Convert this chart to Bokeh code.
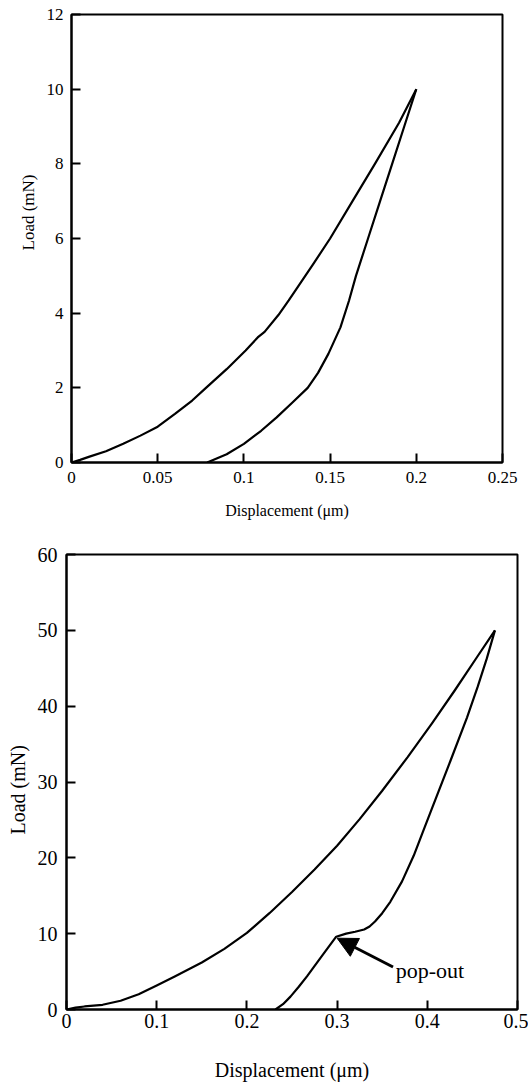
from bokeh.plotting import figure
from bokeh.models import Range1d, FixedTicker, Label, Arrow, NormalHead, Title
from bokeh.embed import file_html
from bokeh.resources import INLINE

FONT = "Liberation Serif"

# ---------------- Panel (a) data ----------------
a_load_x = [0, 0.005, 0.01, 0.02, 0.03, 0.04, 0.05, 0.06, 0.07, 0.078, 0.09, 0.101,
            0.108, 0.112, 0.12, 0.126, 0.14, 0.15, 0.163, 0.176, 0.19, 0.2]
a_load_y = [0, 0.07, 0.15, 0.3, 0.5, 0.72, 0.96, 1.3, 1.66, 2.0, 2.5, 3.0,
            3.35, 3.5, 3.95, 4.34, 5.3, 6.0, 7.0, 8.0, 9.1, 10.0]
a_unload_x = [0.2, 0.193, 0.186, 0.179, 0.172, 0.165, 0.161, 0.156, 0.149, 0.143,
              0.137, 0.128, 0.119, 0.11, 0.1, 0.09, 0.0787]
a_unload_y = [10.0, 9.0, 8.0, 7.0, 6.0, 5.0, 4.34, 3.62, 2.91, 2.4,
              2.0, 1.6, 1.21, 0.85, 0.5, 0.22, 0]
a_xticks = [0, 0.05, 0.1, 0.15, 0.2, 0.25]
a_xtick_labels = ["0", "0.05", "0.1", "0.15", "0.2", "0.25"]
a_yticks = [0, 2, 4, 6, 8, 10, 12]

# ---------------- Panel (b) data ----------------
b_load_x = [0, 0.01, 0.02, 0.04, 0.06, 0.08, 0.1, 0.12, 0.15, 0.175, 0.2, 0.225,
            0.25, 0.275, 0.3, 0.325, 0.35, 0.378, 0.405, 0.43, 0.455, 0.475]
b_load_y = [0, 0.25, 0.4, 0.62, 1.15, 2.0, 3.15, 4.35, 6.2, 8.0, 10.1, 12.7,
            15.5, 18.45, 21.6, 25.1, 28.85, 33.25, 37.7, 42.0, 46.45, 50]
b_unload_x = [0.475, 0.466, 0.456, 0.444, 0.4257, 0.4054, 0.395, 0.385, 0.372,
              0.359, 0.35, 0.342, 0.336, 0.33, 0.32, 0.31, 0.299, 0.2816, 0.2668,
              0.2575, 0.2483, 0.24, 0.2317]
b_unload_y = [50, 46.3, 42.6, 38.5, 32.8, 26.6, 23.4, 20.3, 16.9,
              14.2, 12.7, 11.6, 10.95, 10.55, 10.25, 10.0, 9.6, 6.8, 4.4,
              3.0, 1.7, 0.7, 0]
b_xticks = [0, 0.1, 0.2, 0.3, 0.4, 0.5]
b_xtick_labels = ["0", "0.1", "0.2", "0.3", "0.4", "0.5"]
b_yticks = [0, 10, 20, 30, 40, 50, 60]
popout_index = 16          # point of the unloading curve where the pop-out occurs
popout_text = "pop-out"


def make_panel(xr, yr, xticks, xlabels, yticks, curves, width, height, borders,
               tick_fs, label_fs, x_std, y_std, x_lab_std):
    left, right, top, bottom = borders
    p = figure(width=width, height=height, x_range=Range1d(*xr), y_range=Range1d(*yr),
               output_backend="svg", toolbar_location=None,
               min_border_left=left, min_border_right=right,
               min_border_top=top, min_border_bottom=bottom)
    p.grid.visible = False
    p.outline_line_color = "black"
    p.outline_line_width = 2
    p.outline_line_alpha = 1
    p.background_fill_color = "white"
    p.border_fill_color = "white"
    for ax in (p.xaxis[0], p.yaxis[0]):
        ax.axis_line_width = 2
        ax.axis_line_color = "black"
        ax.major_tick_in = 9
        ax.major_tick_out = 0
        ax.major_tick_line_width = 2
        ax.major_tick_line_color = "black"
        ax.minor_tick_line_color = None
        ax.major_label_text_font = FONT
        ax.major_label_text_font_size = tick_fs
        ax.major_label_text_color = "black"
        ax.axis_label_text_font = FONT
        ax.axis_label_text_font_size = label_fs
        ax.axis_label_text_font_style = "normal"
        ax.axis_label_text_color = "black"
    p.xaxis.ticker = FixedTicker(ticks=xticks)
    p.xaxis.major_label_overrides = {t: l for t, l in zip(xticks, xlabels)}
    p.yaxis.ticker = FixedTicker(ticks=yticks)
    p.xaxis.major_label_standoff = x_std
    p.yaxis.major_label_standoff = y_std
    p.xaxis.axis_label_standoff = x_lab_std
    p.xaxis.axis_label = "Displacement (\u03bcm)"
    for cx, cy in curves:
        p.line(cx, cy, line_color="black", line_width=2.2, line_join="round")
    return p


def corner_label(p, x, y, text, size):
    p.add_layout(Label(x=x, y=y, text=text, text_font=FONT, text_font_size=size,
                       text_align="left", text_baseline="middle", text_color="black"))


def y_title(p, text, size, offset):
    p.add_layout(Title(text=text, align="left", vertical_align="middle", offset=offset,
                       standoff=10, text_font=FONT, text_font_size=size,
                       text_font_style="normal", text_color="black"), "left")


# Panel (a): frame 431 x 448 at (71, 14)
pa = make_panel((0, 0.25), (0, 12), a_xticks, a_xtick_labels, a_yticks,
                [(a_load_x, a_load_y), (a_unload_x, a_unload_y)],
                528, 530, (71, 26, 14, 68), "17px", "16px", 9, 8, 16)
corner_label(pa, -0.0313, -1.26, "(a)", "17px")
y_title(pa, "Load (mN)", "17px", 212)

# Panel (b): frame 451 x 455 at (66, 554)
pb = make_panel((0, 0.5), (0, 60), b_xticks, b_xtick_labels, b_yticks,
                [(b_load_x, b_load_y), (b_unload_x, b_unload_y)],
                528, 559, (66, 11, 24, 80), "20px", "20px", 4, 9, 28)
px, py = b_unload_x[popout_index], b_unload_y[popout_index]
pb.add_layout(Arrow(end=NormalHead(size=20, fill_color="black", line_color="black"),
                    x_start=px + 0.063, y_start=py - 4.0, x_end=px + 0.001, y_end=py - 0.2,
                    line_width=3, line_color="black"))
corner_label(pb, px + 0.066, py - 4.4, popout_text, "22px")
corner_label(pb, -0.0654, -8.7, "b)", "20px")
y_title(pb, "Load (mN)", "20px", 175)

open("out.html", "w").write(file_html([pa, pb], INLINE))
